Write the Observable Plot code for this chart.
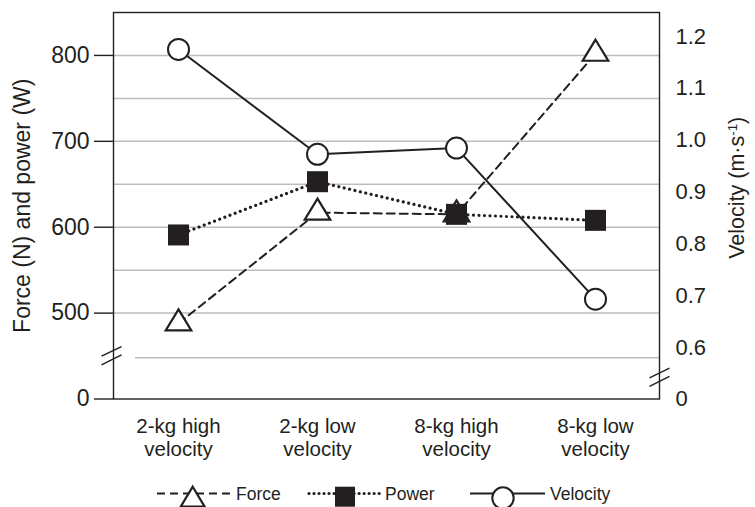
<!DOCTYPE html>
<html><head><meta charset="utf-8">
<script src="https://cdn.jsdelivr.net/npm/d3@7"></script>
<script src="https://cdn.jsdelivr.net/npm/@observablehq/plot@0.6"></script>
<style>
body{margin:0;background:#fff;font-family:"Liberation Sans",Arial,Helvetica,sans-serif;}
#chart svg{display:block}
</style></head><body><div id="chart"></div><script>
// ---- data ----
const categories = ["2-kg high velocity", "2-kg low velocity", "8-kg high velocity", "8-kg low velocity"];
const force = [488, 617, 615, 802];
const power = [591, 653, 615, 608];
const velocity = [1.175, 0.973, 0.985, 0.694];
const leftTicks = [500, 600, 700, 800];
const leftZeroLabel = "0";
const gridValues = [500, 550, 600, 650, 700, 750, 800];
const velocityTicks = [0.6, 0.7, 0.8, 0.9, 1.0, 1.1, 1.2];
const velocityZeroLabel = "0";
const seriesNames = ["Force", "Power", "Velocity"];
const leftTitle = "Force (N) and power (W)";
const rightTitle = "Velocity (m·s-1)";

// ---- axis mapping (broken axes) ----
const yBase = 400, yTop = 850;       // left-axis units at bottom/top of the frame
const lowGrid = 448;                  // partial gridline below the break
const leftBreak = 450.6, rightBreak = 425.4;
const velToY = v => 459.4 + (v - 0.6) * 604.5; // velocity -> left-axis units

const ink = "#231f20";
const rows = categories.map((c, i) => ({category: c, force: force[i], power: power[i], vel: velToY(velocity[i])}));

const triSym = {draw(ctx) { ctx.moveTo(0, -14); ctx.lineTo(12.8, 7); ctx.lineTo(-12.8, 7); ctx.closePath(); }};
const sqSym = {draw(ctx) { ctx.rect(-10.5, -10.5, 21, 21); }};
const breakSym = {draw(ctx) { ctx.moveTo(-10, 0.7); ctx.lineTo(10, -9); ctx.moveTo(-10, 9.3); ctx.lineTo(10, -0.7); }};

const leftTickValues = [yBase, ...leftTicks];
const leftLabel = d => d === yBase ? leftZeroLabel : String(d);
const rightTickMap = new Map([[yBase, velocityZeroLabel], ...velocityTicks.map(v => [velToY(v), v.toFixed(1)])]);

const chart = Plot.plot({
  width: 755, height: 470,
  marginTop: 12, marginBottom: 71.5, marginLeft: 113, marginRight: 96,
  style: {fontFamily: '"Liberation Sans", Arial, Helvetica, sans-serif', color: ink, background: "white"},
  x: {type: "point", domain: categories, padding: 0.46, axis: null},
  y: {domain: [yBase, yTop], axis: null},
  marks: [
    Plot.ruleY(gridValues, {stroke: "#bdbdbd", strokeWidth: 1.5}),
    Plot.ruleY([lowGrid], {stroke: "#bdbdbd", strokeWidth: 1.5, insetLeft: 22}),
    Plot.axisY({anchor: "left", ticks: leftTickValues, tickSize: 19, tickPadding: 5,
      tickFormat: leftLabel, fontSize: 23, label: null, strokeWidth: 1.4}),
    Plot.axisY({anchor: "right", ticks: [...rightTickMap.keys()], tickSize: 0, tickPadding: 16,
      tickFormat: d => rightTickMap.get(d), fontSize: 22, label: null}),
    Plot.frame({stroke: ink, strokeWidth: 1.4}),
    Plot.dot([leftBreak], {y: d => d, frameAnchor: "left", dx: -2, symbol: breakSym, fill: "none", stroke: ink, strokeWidth: 1.4}),
    Plot.dot([rightBreak], {y: d => d, frameAnchor: "right", symbol: breakSym, fill: "none", stroke: ink, strokeWidth: 1.4}),
    Plot.line(rows, {x: "category", y: "force", stroke: ink, strokeWidth: 2, strokeDasharray: "8,5"}),
    Plot.line(rows, {x: "category", y: "power", stroke: ink, strokeWidth: 3.2, strokeDasharray: "0.01,5.5", strokeLinecap: "round"}),
    Plot.line(rows, {x: "category", y: "vel", stroke: ink, strokeWidth: 2}),
    Plot.dot(rows, {x: "category", y: "force", symbol: triSym, fill: "white", stroke: ink, strokeWidth: 2.2}),
    Plot.dot(rows, {x: "category", y: "power", symbol: sqSym, fill: ink, stroke: "none"}),
    Plot.dot(rows, {x: "category", y: "vel", r: 10.5, fill: "white", stroke: ink, strokeWidth: 2}),
    Plot.text(categories, {x: d => d, frameAnchor: "bottom", dy: 18, lineAnchor: "top", lineHeight: 1.12,
      fontSize: 20.5, fill: ink, text: d => d.replace(" velocity", "\nvelocity")}),
    Plot.text([leftTitle], {frameAnchor: "left", dx: -91, rotate: -90, textAnchor: "middle", fontSize: 23, fill: ink, text: d => d}),
    Plot.text([rightTitle], {frameAnchor: "right", dx: 78, dy: -18, rotate: -90, textAnchor: "middle", fontSize: 21.5, fill: ink, text: d => d})
  ]
});
document.getElementById("chart").appendChild(chart);

// superscript in right title
d3.select(chart).selectAll("text").filter(function() { return this.textContent === rightTitle; }).each(function() {
  const t = d3.select(this);
  t.text(null);
  t.append("tspan").text("Velocity (m·s");
  t.append("tspan").attr("baseline-shift", "super").attr("font-size", "0.62em").text("-1");
  t.append("tspan").text(")");
});

// ---- legend (below the plot) ----
const lg = d3.select("#chart").append("svg").attr("width", 755).attr("height", 37)
  .style("display", "block").style("font-family", '"Liberation Sans", Arial, Helvetica, sans-serif');
const ly = 23.5, tb = 30;
// Force
lg.append("line").attr("x1", 157).attr("x2", 230).attr("y1", ly).attr("y2", ly).attr("stroke", ink).attr("stroke-width", 2).attr("stroke-dasharray", "8,5");
lg.append("path").attr("d", "M192.7,16.7L204.7,36.7L180.7,36.7Z").attr("fill", "white").attr("stroke", ink).attr("stroke-width", 2.2);
lg.append("text").attr("x", 236).attr("y", tb).attr("font-size", 17.5).attr("fill", ink).text(seriesNames[0]);
// Power
lg.append("line").attr("x1", 309).attr("x2", 380).attr("y1", ly).attr("y2", ly).attr("stroke", ink).attr("stroke-width", 3.2).attr("stroke-dasharray", "0.01,5").attr("stroke-linecap", "round");
lg.append("rect").attr("x", 335).attr("y", 16.7).attr("width", 20).attr("height", 20).attr("fill", ink);
lg.append("text").attr("x", 385).attr("y", tb).attr("font-size", 17.5).attr("fill", ink).text(seriesNames[1]);
// Velocity
lg.append("line").attr("x1", 470).attr("x2", 545).attr("y1", ly).attr("y2", ly).attr("stroke", ink).attr("stroke-width", 2);
lg.append("circle").attr("cx", 503).attr("cy", 28).attr("r", 10.7).attr("fill", "white").attr("stroke", ink).attr("stroke-width", 2);
lg.append("text").attr("x", 550).attr("y", tb).attr("font-size", 17.5).attr("fill", ink).text(seriesNames[2]);
</script></body></html>
